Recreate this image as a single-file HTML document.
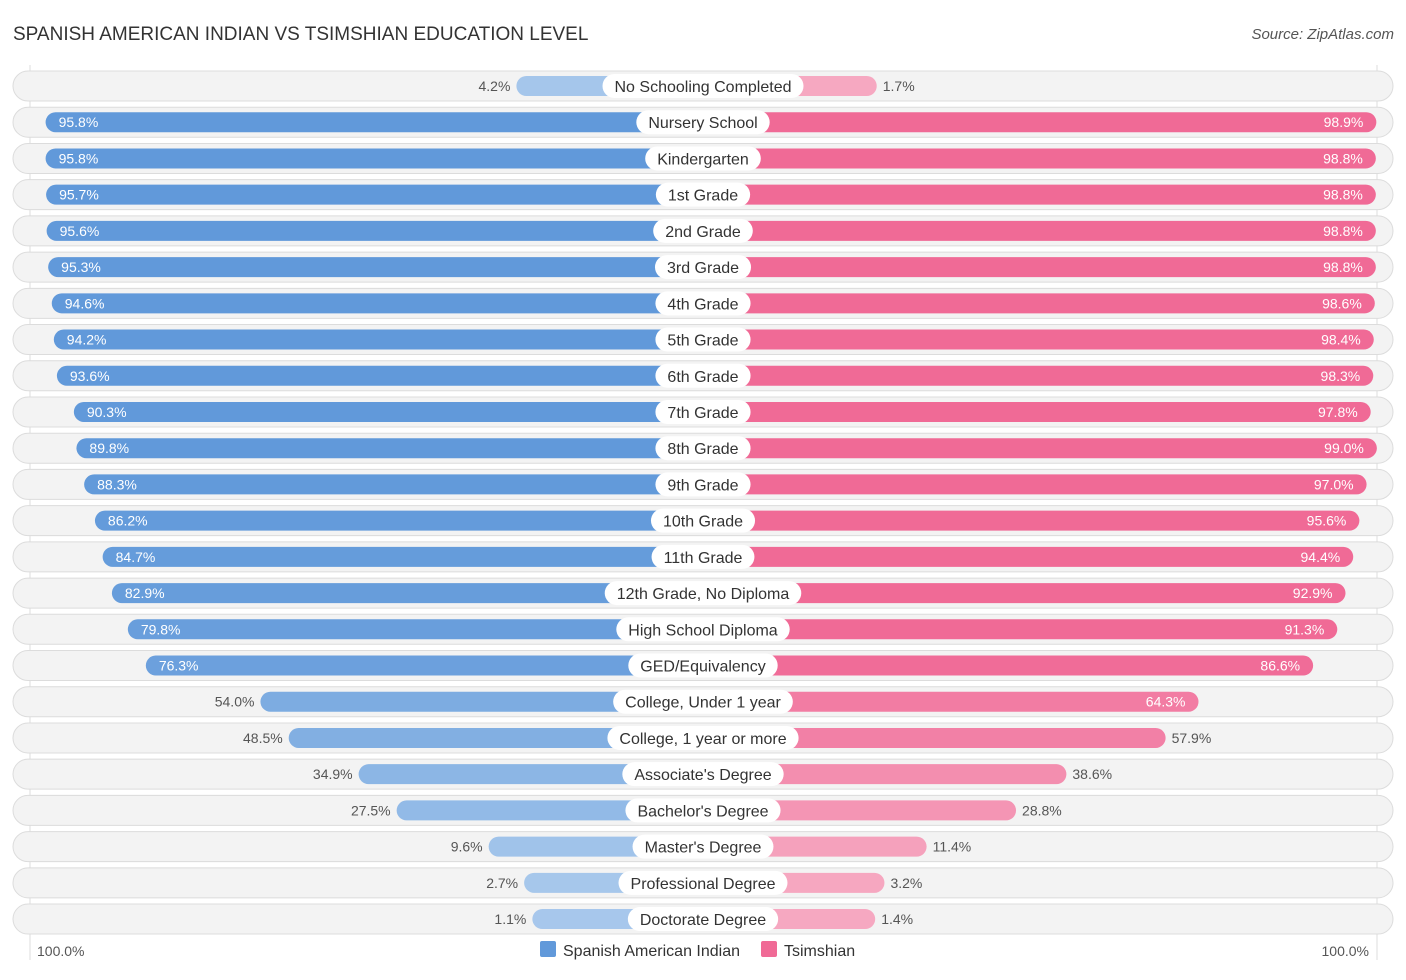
<!DOCTYPE html>
<html><head><meta charset="utf-8"><style>
body{margin:0;background:#fff;font-family:"Liberation Sans",sans-serif}
</style></head><body>
<svg id="c" width="1406" height="975" xmlns="http://www.w3.org/2000/svg" font-family="Liberation Sans, sans-serif">
<text x="13" y="40" font-size="19" fill="#333">SPANISH AMERICAN INDIAN VS TSIMSHIAN EDUCATION LEVEL</text>
<text x="1394" y="39" font-size="15" fill="#555" font-style="italic" text-anchor="end">Source: ZipAtlas.com</text>
<line x1="30" y1="65" x2="30" y2="960" stroke="#ddd"/>
<line x1="1377" y1="65" x2="1377" y2="960" stroke="#ddd"/>
<g id="rows"></g>
<text x="37" y="956" font-size="14" fill="#555">100.0%</text>
<text x="1369" y="956" font-size="14" fill="#555" text-anchor="end">100.0%</text>
<rect x="540" y="941" width="16" height="16" rx="2" fill="#6199da"/>
<text x="563" y="956" font-size="16" fill="#333">Spanish American Indian</text>
<rect x="761" y="941" width="16" height="16" rx="2" fill="#f06a96"/>
<text x="784" y="956" font-size="16" fill="#333">Tsimshian</text>
</svg>
<script>
const categories=["No Schooling Completed","Nursery School","Kindergarten","1st Grade","2nd Grade","3rd Grade","4th Grade","5th Grade","6th Grade","7th Grade","8th Grade","9th Grade","10th Grade","11th Grade","12th Grade, No Diploma","High School Diploma","GED/Equivalency","College, Under 1 year","College, 1 year or more","Associate's Degree","Bachelor's Degree","Master's Degree","Professional Degree","Doctorate Degree"];
const spanish=[4.2,95.8,95.8,95.7,95.6,95.3,94.6,94.2,93.6,90.3,89.8,88.3,86.2,84.7,82.9,79.8,76.3,54.0,48.5,34.9,27.5,9.6,2.7,1.1];
const tsimshian=[1.7,98.9,98.8,98.8,98.8,98.8,98.6,98.4,98.3,97.8,99.0,97.0,95.6,94.4,92.9,91.3,86.6,64.3,57.9,38.6,28.8,11.4,3.2,1.4];
const NS="http://www.w3.org/2000/svg",g=document.getElementById("rows"),cx=703;
function w(v){return 165+5.14*v;}
function mix(a,b,t){return "rgb("+a.map((x,i)=>Math.round(x+(b[i]-x)*t)).join(",")+")";}
function col(v,dark,light){return mix(light,dark,Math.min(1,v/90));}
function el(t,a,p){const e=document.createElementNS(NS,t);for(const k in a)e.setAttribute(k,a[k]);(p||g).appendChild(e);return e;}
categories.forEach((c,i)=>{
 const y=86+i*36.22;
 const bg=el("rect",{x:13,y:y-15,width:1380,height:30,rx:15,fill:"#f3f3f3",stroke:"#dcdcdc"});
 
 
 const a=spanish[i],b=tsimshian[i];
 const lw=w(a),rw=w(b);
 const lb=el("rect",{x:cx-lw,y:y-10,width:lw,height:20,rx:10,fill:col(a,[97,153,218],[168,200,236])});
 
 
 const rb=el("rect",{x:cx,y:y-10,width:rw,height:20,rx:10,fill:col(b,[240,106,150],[246,169,194])});
 
 
 const tl=el("text",{y:y+5,"font-size":14});
 
 
 tl.textContent=a.toFixed(1)+"%";
 if(a>70){tl.setAttribute("x",cx-lw+13);tl.setAttribute("fill","#fff");}
 else{tl.setAttribute("x",cx-lw-6);tl.setAttribute("text-anchor","end");tl.setAttribute("fill","#555");}
 const tr=el("text",{y:y+5,"font-size":14});
 
 
 tr.textContent=b.toFixed(1)+"%";
 if(b>60){tr.setAttribute("x",cx+rw-13);tr.setAttribute("text-anchor","end");tr.setAttribute("fill","#fff");}
 else{tr.setAttribute("x",cx+rw+6);tr.setAttribute("fill","#555");}
 const lab=el("text",{x:cx,y:y+6,"font-size":16,"text-anchor":"middle",fill:"#333"});
 
 
 lab.textContent=c;
 const tw=lab.getComputedTextLength();
 const pill=el("rect",{x:cx-tw/2-12,y:y-12,width:tw+24,height:24,rx:12,fill:"#fff"});
 
 
 g.insertBefore(pill,lab);
});
</script>
</body></html>
